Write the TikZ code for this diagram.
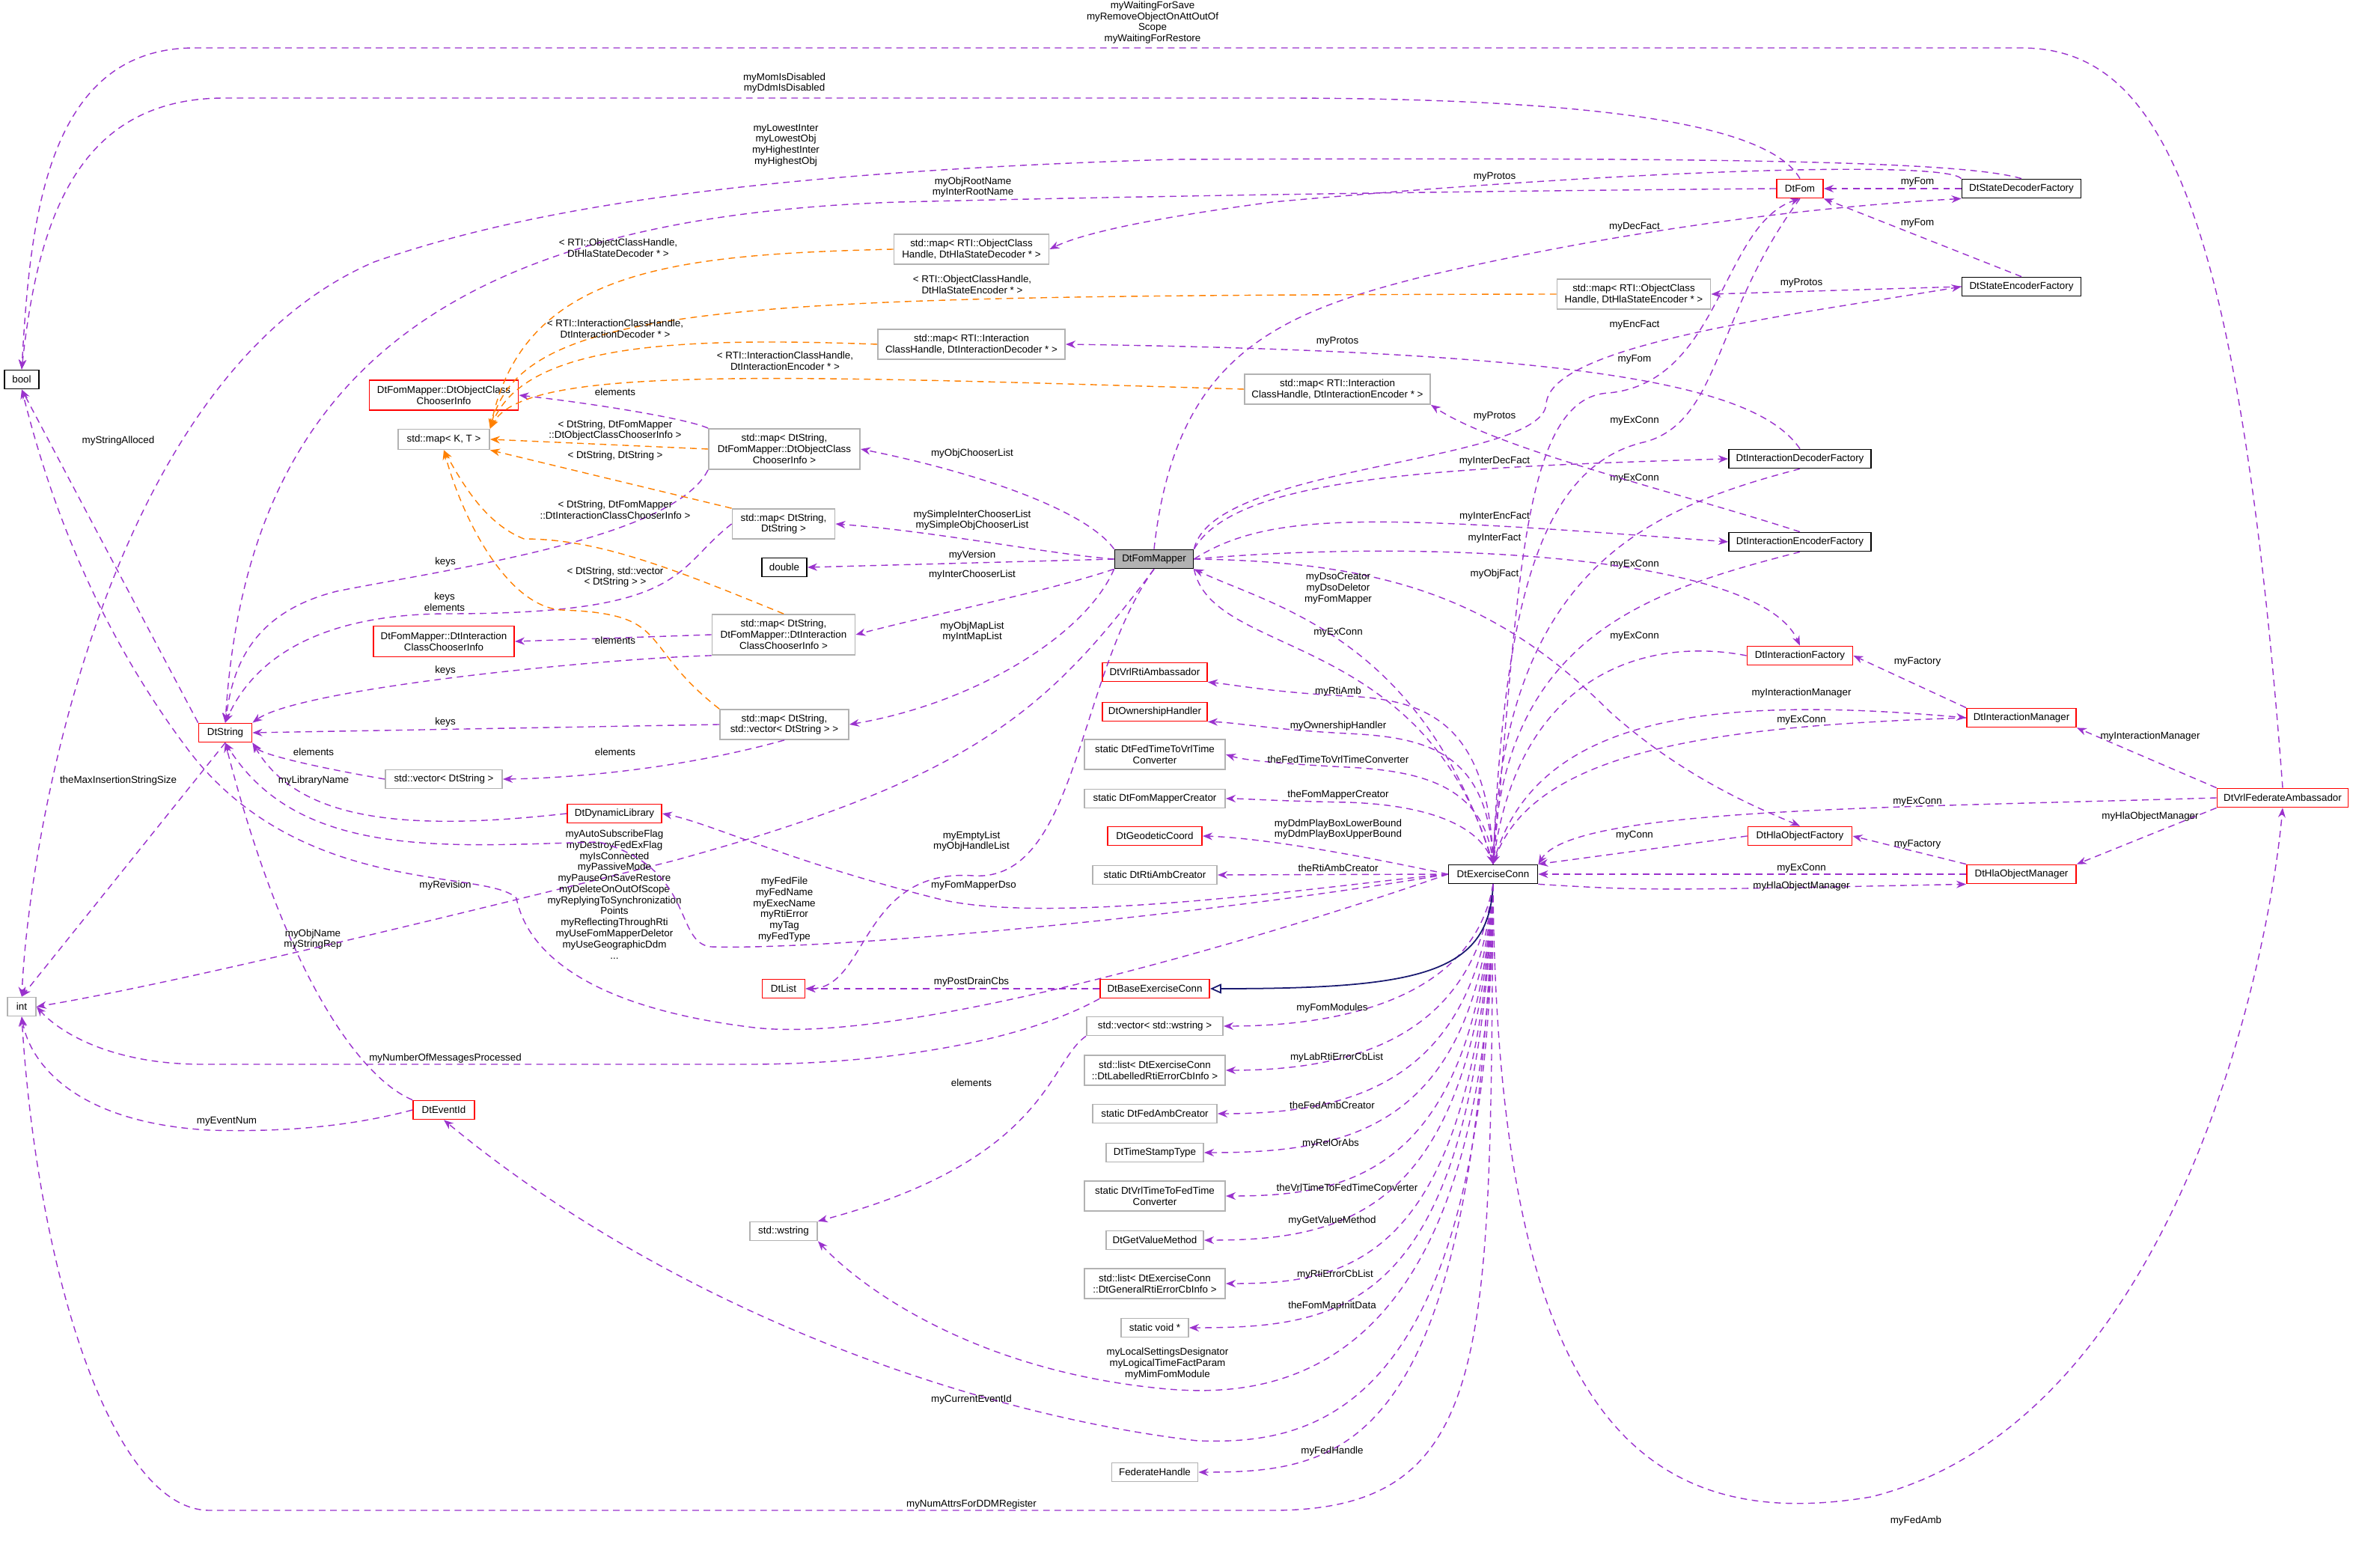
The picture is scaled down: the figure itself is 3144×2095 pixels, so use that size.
\documentclass[tikz,border=0pt]{standalone}
\usepackage{fontspec}
\setmainfont{Liberation Sans}
\usetikzlibrary{arrows.meta}
\begin{document}
\begin{tikzpicture}[x=0.01cm,y=-0.01cm,
 every node/.style={font=\fontsize{3.8}{4.2}\selectfont},
 cls/.style={draw=black,rectangle,inner sep=0.5pt,align=center,line width=0.5pt,minimum height=0.25cm},
 rd/.style={cls,draw=red},
 gr/.style={cls,draw=black!30},
 lab/.style={align=center,inner sep=0pt},
 e/.style={draw={rgb,255:red,154;green,50;blue,205},dashed,dash pattern=on 2.5pt off 1.8pt,line width=0.4pt,-{Stealth[length=1.3mm,width=1mm]}},
 o/.style={e,draw=orange},
 inh/.style={draw={rgb,255:red,25;green,25;blue,112},line width=0.5pt,-{Triangle[open,length=1.5mm,width=1.3mm]}}]
\useasboundingbox (0,0) rectangle (3144,2095);
% nodes
\node[cls,minimum width=0.46cm] (bool) at (29,507) {bool};
\node[gr,minimum width=0.38cm] (int) at (29,1345) {int};
\node[rd,minimum width=0.71cm] (dtstring) at (301,979) {DtString};
\node[rd,minimum width=1.99cm,minimum height=0.40cm] (objinfo) at (593,528) {DtFomMapper::DtObjectClass\\ChooserInfo};
\node[gr,minimum width=1.22cm,minimum height=0.27cm] (mapKT) at (593,587) {std::map< K, T >};
\node[rd,minimum width=1.88cm,minimum height=0.41cm] (intinfo) at (593,857) {DtFomMapper::DtInteraction\\ClassChooserInfo};
\node[gr,minimum width=1.56cm] (vecstr) at (593,1041) {std::vector< DtString >};
\node[rd,minimum width=1.26cm] (dynlib) at (821,1087) {DtDynamicLibrary};
\node[rd,minimum width=0.82cm] (eventid) at (593,1483) {DtEventId};
\node[gr,minimum width=2.07cm,minimum height=0.40cm] (mapdec) at (1298,333) {std::map< RTI::ObjectClass\\Handle, DtHlaStateDecoder * >};
\node[gr,minimum width=2.50cm,minimum height=0.40cm] (mapidec) at (1298,460) {std::map< RTI::Interaction\\ClassHandle, DtInteractionDecoder * >};
\node[gr,minimum width=2.02cm,minimum height=0.54cm] (mapsobj) at (1048,600) {std::map< DtString,\\DtFomMapper::DtObjectClass\\ChooserInfo >};
\node[gr,minimum width=1.37cm,minimum height=0.40cm] (mapss) at (1047,700) {std::map< DtString,\\DtString >};
\node[cls,minimum width=0.60cm] (double) at (1048,758) {double};
\node[gr,minimum width=1.91cm,minimum height=0.54cm] (mapsint) at (1047,848) {std::map< DtString,\\DtFomMapper::DtInteraction\\ClassChooserInfo >};
\node[gr,minimum width=1.72cm,minimum height=0.40cm] (mapsvec) at (1048,968) {std::map< DtString,\\std::vector< DtString > >};
\node[rd,minimum width=0.57cm] (dtlist) at (1047,1321) {DtList};
\node[gr,minimum width=0.90cm] (wstring) at (1047,1645) {std::wstring};
\node[cls,fill=black!30,minimum width=1.05cm] (fommapper) at (1542,747) {DtFomMapper};
\node[rd,minimum width=1.40cm] (vrlrti) at (1543,898) {DtVrlRtiAmbassador};
\node[rd,minimum width=1.40cm] (own) at (1543,951) {DtOwnershipHandler};
\node[gr,minimum width=1.88cm,minimum height=0.40cm] (fed2vrl) at (1543,1008) {static DtFedTimeToVrlTime\\Converter};
\node[gr,minimum width=1.88cm] (fmcreator) at (1543,1067) {static DtFomMapperCreator};
\node[rd,minimum width=1.26cm] (geo) at (1543,1117) {DtGeodeticCoord};
\node[gr,minimum width=1.66cm] (rtiamb) at (1543,1169) {static DtRtiAmbCreator};
\node[rd,minimum width=1.46cm] (baseex) at (1543,1321) {DtBaseExerciseConn};
\node[gr,minimum width=1.82cm] (vecws) at (1543,1371) {std::vector< std::wstring >};
\node[gr,minimum width=1.88cm,minimum height=0.40cm] (lablist) at (1543,1430) {std::list< DtExerciseConn\\::DtLabelledRtiErrorCbInfo >};
\node[gr,minimum width=1.66cm] (fedamb) at (1543,1488) {static DtFedAmbCreator};
\node[gr,minimum width=1.30cm] (tst) at (1543,1540) {DtTimeStampType};
\node[gr,minimum width=1.88cm,minimum height=0.40cm] (vrl2fed) at (1543,1598) {static DtVrlTimeToFedTime\\Converter};
\node[gr,minimum width=1.30cm] (getval) at (1543,1657) {DtGetValueMethod};
\node[gr,minimum width=1.88cm,minimum height=0.40cm] (genlist) at (1543,1715) {std::list< DtExerciseConn\\::DtGeneralRtiErrorCbInfo >};
\node[gr,minimum width=0.90cm] (voidp) at (1543,1774) {static void *};
\node[gr,minimum width=1.15cm] (fedh) at (1543,1967) {FederateHandle};
\node[gr,minimum width=2.05cm,minimum height=0.40cm] (mapenc) at (2183,393) {std::map< RTI::ObjectClass\\Handle, DtHlaStateEncoder * >};
\node[gr,minimum width=2.48cm,minimum height=0.40cm] (mapienc) at (1787,520) {std::map< RTI::Interaction\\ClassHandle, DtInteractionEncoder * >};
\node[cls,minimum width=1.19cm] (excon) at (1995,1168) {DtExerciseConn};
\node[rd,minimum width=0.62cm] (fom) at (2405,252) {DtFom};
\node[cls,minimum width=1.90cm] (idecf) at (2405,613) {DtInteractionDecoderFactory};
\node[cls,minimum width=1.90cm] (iencf) at (2405,724) {DtInteractionEncoderFactory};
\node[rd,minimum width=1.41cm] (ifact) at (2405,876) {DtInteractionFactory};
\node[rd,minimum width=1.39cm] (hlaof) at (2405,1117) {DtHlaObjectFactory};
\node[cls,minimum width=1.59cm] (sdecf) at (2701,252) {DtStateDecoderFactory};
\node[cls,minimum width=1.59cm] (sencf) at (2701,383) {DtStateEncoderFactory};
\node[rd,minimum width=1.46cm] (imgr) at (2701,959) {DtInteractionManager};
\node[rd,minimum width=1.46cm] (hlamgr) at (2701,1168) {DtHlaObjectManager};
\node[rd,minimum width=1.75cm] (vrlfa) at (3050,1066) {DtVrlFederateAmbassador};
% purple edges
\draw[e] (vrlfa.north) .. controls (2990,250) and (2880,64) .. (2700,64) -- (260,64) .. controls (60,64) and (40,300) .. (bool.north);
\node[lab] (l1) at (1540,30) {myWaitingForSave\\myRemoveObjectOnAttOutOf\\Scope\\myWaitingForRestore};
\draw[e] (fom.north) .. controls (2360,160) and (2100,131) .. (1700,131) -- (300,131) .. controls (100,131) and (50,300) .. (bool.north);
\node[lab] (l2) at (1048,111) {myMomIsDisabled\\myDdmIsDisabled};
\draw[e] (dtstring.north west) -- (bool.south);
\node[lab] (l3) at (158,589) {myStringAlloced};
\draw[e] (dtstring.south) -- (int.north);
\node[lab] (l4) at (158,1043) {theMaxInsertionStringSize};
\draw[e] (sdecf.north) .. controls (2620,215) and (2300,210) .. (1568,213) .. controls (1000,230) and (700,280) .. (500,350) .. controls (150,500) and (40,1100) .. (int.north);
\node[lab] (l5) at (1050,194) {myLowestInter\\myLowestObj\\myHighestInter\\myHighestObj};
\draw[e] (fom.west) .. controls (2000,255) and (1568,261) .. (1200,270) .. controls (600,290) and (330,500) .. (dtstring.north);
\node[lab] (l6) at (1300,250) {myObjRootName\\myInterRootName};
\draw[e] (sdecf.north west) .. controls (2600,215) and (2200,225) .. (1700,270) .. controls (1550,290) and (1450,310) .. (mapdec.east);
\node[lab] (l7) at (1997,236) {myProtos};
\draw[e] (sdecf.west) -- (fom.east);
\node[lab] (l8) at (2562,243) {myFom};
\draw[e] (sencf.north) -- (fom.south east);
\node[lab] (l9) at (2562,298) {myFom};
\draw[e] (sencf.west) -- (mapenc.east);
\node[lab] (l10) at (2407,378) {myProtos};
\draw[e] (fommapper.north) .. controls (1570,480) and (1700,420) .. (1900,370) .. controls (2200,300) and (2450,275) .. (sdecf.south west);
\node[lab] (l11) at (2184,303) {myDecFact};
\draw[e] (fommapper.north east) .. controls (1620,620) and (2060,620) .. (2066,540) .. controls (2070,460) and (2400,420) .. (sencf.west);
\node[lab] (l12) at (2184,434) {myEncFact};
\draw[e] (idecf.north) .. controls (2350,520) and (2150,470) .. (mapidec.east);
\node[lab] (l13) at (1787,456) {myProtos};
\draw[e] (excon.north) .. controls (2030,800) and (2030,530) .. (2150,525) .. controls (2300,510) and (2300,300) .. (fom.south);
\node[lab] (l14) at (2184,480) {myFom};
\draw[e] (fom.south) .. controls (2290,420) and (2300,560) .. (2200,590) .. controls (2060,620) and (2010,800) .. (excon.north);
\node[lab] (l15) at (2184,562) {myExConn};
\draw[e] (idecf.south) .. controls (2200,680) and (2010,760) .. (excon.north);
\node[lab] (l16) at (2184,639) {myExConn};
\draw[e] (iencf.south) .. controls (2200,790) and (2010,850) .. (excon.north);
\node[lab] (l17) at (2184,754) {myExConn};
\draw[e] (iencf.north) .. controls (2250,660) and (2000,600) .. (mapienc.south east);
\node[lab] (l18) at (1997,556) {myProtos};
\draw[e] (fommapper.north east) .. controls (1650,640) and (1900,625) .. (idecf.west);
\node[lab] (l19) at (1997,616) {myInterDecFact};
\draw[e] (fommapper.east) .. controls (1700,680) and (1850,690) .. (iencf.west);
\node[lab] (l20) at (1997,690) {myInterEncFact};
\draw[e] (fommapper.east) .. controls (1900,720) and (2350,740) .. (ifact.north);
\node[lab] (l21) at (1997,719) {myInterFact};
\draw[e] (fommapper.east) .. controls (1850,750) and (2000,800) .. (2150,950) .. controls (2250,1040) and (2350,1080) .. (hlaof.north);
\node[lab] (l22) at (1997,767) {myObjFact};
\draw[e] (excon.north) .. controls (1900,850) and (1700,810) .. (fommapper.south east);
\node[lab] (l23) at (1788,786) {myDsoCreator\\myDsoDeletor\\myFomMapper};
\draw[e] (fommapper.south east) .. controls (1620,880) and (1900,840) .. (excon.north);
\node[lab] (l24) at (1788,845) {myExConn};
\draw[e] (excon.north) .. controls (1990,960) and (1900,935) .. (1800,930) .. controls (1700,925) and (1650,915) .. (vrlrti.south east);
\node[lab] (l25) at (1788,924) {myRtiAmb};
\draw[e] (excon.north) .. controls (1990,1000) and (1900,985) .. (1800,980) .. controls (1700,975) and (1650,965) .. (own.south east);
\node[lab] (l26) at (1788,970) {myOwnershipHandler};
\draw[e] (excon.north) .. controls (1985,1050) and (1900,1030) .. (1800,1025) .. controls (1700,1020) and (1660,1015) .. (fed2vrl.east);
\node[lab] (l27) at (1788,1015) {theFedTimeToVrlTimeConverter};
\draw[e] (excon.north) .. controls (1980,1100) and (1900,1075) .. (1800,1072) .. controls (1700,1070) and (1660,1067) .. (fmcreator.east);
\node[lab] (l28) at (1788,1062) {theFomMapperCreator};
\draw[e] (excon.west) .. controls (1850,1150) and (1700,1120) .. (geo.east);
\node[lab] (l29) at (1788,1108) {myDdmPlayBoxLowerBound\\myDdmPlayBoxUpperBound};
\draw[e] (excon.west) -- (rtiamb.east);
\node[lab] (l30) at (1788,1160) {theRtiAmbCreator};
\draw[e] (excon.south) .. controls (1970,1330) and (1800,1371) .. (vecws.east);
\node[lab] (l31) at (1780,1347) {myFomModules};
\draw[e] (excon.south) .. controls (1970,1390) and (1800,1430) .. (lablist.east);
\node[lab] (l32) at (1786,1413) {myLabRtiErrorCbList};
\draw[e] (excon.south) .. controls (1970,1450) and (1800,1488) .. (fedamb.east);
\node[lab] (l33) at (1780,1477) {theFedAmbCreator};
\draw[e] (excon.south) .. controls (1970,1510) and (1800,1540) .. (tst.east);
\node[lab] (l34) at (1778,1528) {myRelOrAbs};
\draw[e] (excon.south) .. controls (1970,1570) and (1800,1598) .. (vrl2fed.east);
\node[lab] (l35) at (1800,1587) {theVrlTimeToFedTimeConverter};
\draw[e] (excon.south) .. controls (1970,1620) and (1800,1657) .. (getval.east);
\node[lab] (l36) at (1780,1631) {myGetValueMethod};
\draw[e] (excon.south) .. controls (1970,1690) and (1800,1715) .. (genlist.east);
\node[lab] (l37) at (1784,1703) {myRtiErrorCbList};
\draw[e] (excon.south) .. controls (1970,1750) and (1800,1774) .. (voidp.east);
\node[lab] (l38) at (1780,1745) {theFomMapInitData};
\draw[e] (excon.south) .. controls (1970,1940) and (1800,1967) .. (fedh.east);
\node[lab] (l39) at (1780,1939) {myFedHandle};
\draw[inh] (excon.south) .. controls (1990,1300) and (1900,1321) .. (baseex.east);
\draw[e] (baseex.west) -- (dtlist.east);
\node[lab] (l40) at (1298,1312) {myPostDrainCbs};
\draw[e] (baseex.south west) .. controls (1350,1400) and (1150,1422) .. (1000,1422) -- (270,1422) .. controls (150,1422) and (80,1380) .. (int.east);
\node[lab] (l41) at (595,1414) {myNumberOfMessagesProcessed};
\draw[e] (eventid.west) .. controls (450,1510) and (350,1512) .. (280,1510) .. controls (100,1500) and (40,1420) .. (int.south);
\node[lab] (l42) at (303,1498) {myEventNum};
\draw[e] (eventid.north west) .. controls (480,1440) and (380,1300) .. (dtstring.south);
\node[lab] (l43) at (418,1255) {myObjName\\myStringRep};
\draw[e] (excon.south) .. controls (1990,1800) and (2000,2018) .. (1700,2018) -- (280,2018) .. controls (150,2018) and (50,1700) .. (int.south);
\node[lab] (l44) at (1298,2010) {myNumAttrsForDDMRegister};
\draw[e] (excon.south) .. controls (2000,1900) and (2200,2050) .. (2500,2000) .. controls (2900,1900) and (3030,1300) .. (vrlfa.south);
\node[lab] (l45) at (2560,2032) {myFedAmb};
\draw[e] (excon.south) .. controls (1990,1900) and (1750,1930) .. (1600,1925) .. controls (1300,1890) and (900,1750) .. (eventid.south);
\node[lab] (l46) at (1298,1870) {myCurrentEventId};
\draw[e] (excon.south) .. controls (1990,1850) and (1700,1870) .. (1550,1855) .. controls (1300,1830) and (1150,1720) .. (wstring.south east);
\node[lab] (l47) at (1560,1822) {myLocalSettingsDesignator\\myLogicalTimeFactParam\\myMimFomModule};
\draw[e] (vecws.south west) .. controls (1400,1420) and (1400,1550) .. (wstring.north east);
\node[lab] (l48) at (1298,1447) {elements};
\draw[e] (fommapper.south) .. controls (1440,900) and (1440,1180) .. (1300,1170) .. controls (1150,1160) and (1160,1320) .. (dtlist.east);
\node[lab] (l49) at (1298,1124) {myEmptyList\\myObjHandleList};
\draw[e] (excon.west) .. controls (1800,1180) and (1400,1240) .. (1250,1200) .. controls (1050,1150) and (950,1100) .. (dynlib.east);
\node[lab] (l50) at (1301,1183) {myFomMapperDso};
\draw[e] (dynlib.west) .. controls (550,1110) and (400,1100) .. (dtstring.south east);
\node[lab] (l51) at (419,1043) {myLibraryName};
\draw[e] (mapsvec.south) .. controls (900,1030) and (750,1040) .. (vecstr.east);
\node[lab] (l52) at (822,1005) {elements};
\draw[e] (vecstr.west) .. controls (450,1030) and (350,1010) .. (dtstring.south east);
\node[lab] (l53) at (419,1005) {elements};
\draw[e] (mapsvec.west) -- (dtstring.east);
\node[lab] (l54) at (595,965) {keys};
\draw[e] (mapsint.south west) .. controls (800,880) and (400,920) .. (dtstring.north east);
\node[lab] (l55) at (595,896) {keys};
\draw[e] (mapsint.west) -- (intinfo.east);
\node[lab] (l56) at (822,856) {elements};
\draw[e] (mapss.west) .. controls (900,760) and (920,820) .. (600,820) .. controls (400,820) and (330,900) .. (dtstring.north);
\node[lab] (l57) at (594,804) {keys\\elements};
\draw[e] (mapsobj.south west) .. controls (900,720) and (600,760) .. (450,790) .. controls (330,820) and (310,900) .. (dtstring.north);
\node[lab] (l58) at (595,751) {keys};
\draw[e] (mapsobj.north west) .. controls (920,560) and (800,540) .. (objinfo.east);
\node[lab] (l59) at (822,524) {elements};
\draw[e] (fommapper.north west) .. controls (1450,680) and (1300,630) .. (mapsobj.east);
\node[lab] (l60) at (1299,606) {myObjChooserList};
\draw[e] (fommapper.west) .. controls (1400,740) and (1250,710) .. (mapss.east);
\node[lab] (l61) at (1299,695) {mySimpleInterChooserList\\mySimpleObjChooserList};
\draw[e] (fommapper.west) -- (double.east);
\node[lab] (l62) at (1299,742) {myVersion};
\draw[e] (fommapper.south west) .. controls (1400,790) and (1250,820) .. (mapsint.east);
\node[lab] (l63) at (1299,768) {myInterChooserList};
\draw[e] (fommapper.south west) .. controls (1450,850) and (1300,940) .. (mapsvec.east);
\node[lab] (l64) at (1299,844) {myObjMapList\\myIntMapList};
\draw[e] (fommapper.south) .. controls (1400,950) and (1300,1040) .. (900,1150) .. controls (500,1250) and (200,1320) .. (int.east);
\node[lab] (l65) at (595,1183) {myRevision};
\draw[e] (excon.west) .. controls (1700,1250) and (1200,1400) .. (1000,1372) .. controls (750,1340) and (700,1250) .. (690,1200) .. controls (650,1160) and (400,1200) .. (250,1000) .. controls (100,800) and (50,600) .. (bool.south);
\node[lab] (l66) at (821,1195) {myAutoSubscribeFlag\\myDestroyFedExFlag\\myIsConnected\\myPassiveMode\\myPauseOnSaveRestore\\myDeleteOnOutOfScope\\myReplyingToSynchronization\\Points\\myReflectingThroughRti\\myUseFomMapperDeletor\\myUseGeographicDdm\\...};
\draw[e] (excon.west) .. controls (1600,1225) and (1100,1270) .. (950,1265) .. controls (900,1260) and (930,1160) .. (800,1125) .. controls (600,1130) and (400,1150) .. (dtstring.south);
\node[lab] (l67) at (1048,1215) {myFedFile\\myFedName\\myExecName\\myRtiError\\myTag\\myFedType};
\draw[e] (vrlfa.north west) -- (imgr.south east);
\node[lab] (l68) at (2873,984) {myInteractionManager};
\draw[e] (vrlfa.south west) -- (hlamgr.north east);
\node[lab] (l69) at (2873,1091) {myHlaObjectManager};
\draw[e] (vrlfa.west) .. controls (2500,1080) and (2100,1080) .. (excon.north east);
\node[lab] (l70) at (2562,1071) {myExConn};
\draw[e] (imgr.north west) -- (ifact.east);
\node[lab] (l71) at (2562,884) {myFactory};
\draw[e] (excon.north) .. controls (2050,950) and (2300,930) .. (imgr.west);
\node[lab] (l72) at (2407,926) {myInteractionManager};
\draw[e] (imgr.west) .. controls (2300,970) and (2050,1000) .. (excon.north);
\node[lab] (l73) at (2407,962) {myExConn};
\draw[e] (ifact.west) .. controls (2200,850) and (2030,900) .. (excon.north);
\node[lab] (l74) at (2184,850) {myExConn};
\draw[e] (hlamgr.north west) -- (hlaof.east);
\node[lab] (l75) at (2562,1128) {myFactory};
\draw[e] (hlaof.west) -- (excon.north east);
\node[lab] (l76) at (2184,1116) {myConn};
\draw[e] (hlamgr.west) -- (excon.east);
\node[lab] (l77) at (2407,1160) {myExConn};
\draw[e] (excon.south east) .. controls (2200,1190) .. (hlamgr.south west);
\node[lab] (l78) at (2407,1184) {myHlaObjectManager};
% orange template edges
\draw[o] (mapdec.west) .. controls (900,340) and (700,360) .. (mapKT.north east);
\node[lab] (t1) at (826,331) {< RTI::ObjectClassHandle,\\DtHlaStateDecoder * >};
\draw[o] (mapenc.west) .. controls (1000,395) and (700,400) .. (mapKT.north east);
\node[lab] (t2) at (1299,380) {< RTI::ObjectClassHandle,\\DtHlaStateEncoder * >};
\draw[o] (mapidec.west) .. controls (900,450) and (700,460) .. (mapKT.north east);
\node[lab] (t3) at (822,439) {< RTI::InteractionClassHandle,\\DtInteractionDecoder * >};
\draw[o] (mapienc.west) .. controls (1000,500) and (700,490) .. (mapKT.north east);
\node[lab] (t4) at (1049,482) {< RTI::InteractionClassHandle,\\DtInteractionEncoder * >};
\draw[o] (mapsobj.west) -- (mapKT.east);
\node[lab] (t5) at (822,575) {< DtString, DtFomMapper\\::DtObjectClassChooserInfo >};
\draw[o] (mapss.north west) -- (mapKT.south east);
\node[lab] (t6) at (822,609) {< DtString, DtString >};
\draw[o] (mapsint.north) .. controls (900,760) and (800,720) .. (700,720) .. controls (650,700) and (620,650) .. (mapKT.south);
\node[lab] (t7) at (822,681) {< DtString, DtFomMapper\\::DtInteractionClassChooserInfo >};
\draw[o] (mapsvec.north west) .. controls (850,860) and (900,820) .. (750,815) .. controls (680,810) and (620,700) .. (mapKT.south);
\node[lab] (t8) at (822,771) {< DtString, std::vector\\< DtString > >};
\end{tikzpicture}
\end{document}
